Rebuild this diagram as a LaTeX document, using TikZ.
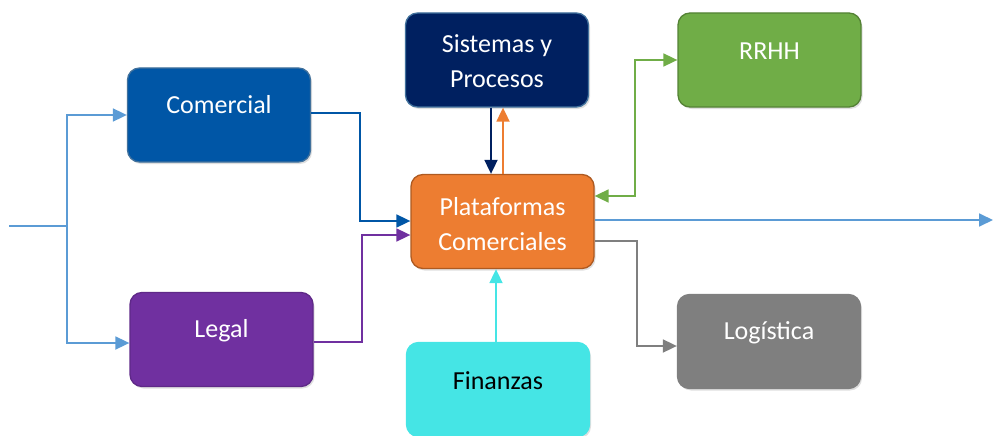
\documentclass[tikz,border=0pt]{standalone}
\usepackage{fontspec}
\setmainfont{Carlito}
\usetikzlibrary{arrows.meta,calc,shadows}
\definecolor{comB}{HTML}{0056A6}
\definecolor{comL}{HTML}{41719C}
\definecolor{legB}{HTML}{7030A0}
\definecolor{sisB}{HTML}{002060}
\definecolor{rrhB}{HTML}{70AD47}
\definecolor{rrhL}{HTML}{548235}
\definecolor{plaB}{HTML}{ED7D31}
\definecolor{plaL}{HTML}{AE5A21}
\definecolor{logB}{HTML}{7F7F7F}
\definecolor{finB}{HTML}{45E5E5}
\definecolor{inL}{HTML}{5B9BD5}
\begin{document}
\begin{tikzpicture}[x=1pt,y=-1pt,
  box/.style={rectangle, rounded corners=12pt, minimum width=183pt, minimum height=94pt,
    line width=1.3pt, drop shadow={shadow xshift=1.5pt, shadow yshift=-2pt, opacity=0.25}},
  txt/.style={text=white, font=\fontsize{26}{35}\selectfont, align=center, inner sep=0pt},
  conn/.style={line width=1.8pt, -{Triangle[length=14pt,width=13pt]}}
]
\useasboundingbox (0,0) rectangle (993,436);
% boxes
\node[box, fill=comB, draw=comL] (com) at (219,115) {};
\node[txt] (comT) at (219,105) {Comercial};
\node[box, fill=legB, draw=legB!85!black] (leg) at (221.5,339.5) {};
\node[txt] (legT) at (221.5,331) {Legal};
\node[box, fill=sisB, draw=comL] (sis) at (497,60) {};
\node[txt] (sisT) at (497,61) {Sistemas y\\Procesos};
\node[box, fill=rrhB, draw=rrhL] (rrh) at (769.5,60) {};
\node[txt] (rrhT) at (769.5,51) {RRHH};
\node[box, fill=plaB, draw=plaL] (pla) at (502.5,221.5) {};
\node[txt] (plaT) at (502.5,224) {Plataformas\\Comerciales};
\node[box, fill=logB, draw=logB] (log) at (769,341.5) {};
\node[txt] (logT) at (769,333) {Logística};
\node[box, fill=finB, draw=finB] (fin) at (498,389.5) {};
\node[txt, text=black] (finT) at (498,381) {Finanzas};
% input
\coordinate (in) at (9,226);
\coordinate (split) at (67,226);
\coordinate (outR) at (993,220);
\draw[line width=1.8pt, inL] (in) -- (split);
\draw[conn, inL] (split) |- ($(com.west)+(0,0)$);
\draw[conn, inL] (split) |- ($(leg.west)+(0,3.5)$);
% to plataformas
\draw[conn, comB] ($(com.east)+(0,-2)$) -- ++(49,0) |- ($(pla.west)+(0,-0.5)$);
\draw[conn, legB] ($(leg.east)+(0,2.5)$) -- ++(48,0) |- ($(pla.west)+(0,13.5)$);
\draw[conn, sisB] ($(sis.south)+(-6,0)$) -- ($(pla.north)+(-11.5,0)$);
\draw[conn, plaB] ($(pla.north)+(0.5,0)$) -- ($(sis.south)+(6,0)$);
\draw[conn, finB] ($(fin.north)+(-2,0)$) -- ($(pla.south)+(-6.5,0)$);
\draw[conn, rrhB, {Triangle[length=14pt,width=13pt]}-{Triangle[length=14pt,width=13pt]}] ($(pla.east)+(0,-25.5)$) -- ++(40,0) |- (rrh.west);
\draw[conn, logB] ($(pla.east)+(0,19.5)$) -- ++(42,0) |- ($(log.west)+(0,4.5)$);
\draw[conn, inL] ($(pla.east)+(0,-1.5)$) -- (outR);
\end{tikzpicture}
\end{document}
